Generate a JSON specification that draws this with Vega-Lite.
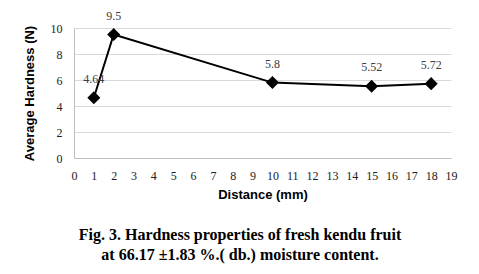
{
  "$schema": "https://vega.github.io/schema/vega-lite/v6.json",
  "autosize": {"type": "none"},
  "padding": {"left": 74, "top": 28, "right": 28, "bottom": 116},
  "width": 377,
  "height": 130,
  "background": "white",
  "config": {"view": {"stroke": null}},
  "title": {
    "text": "Fig. 3. Hardness properties of fresh kendu fruit",
    "subtitle": "at 66.17 ±1.83 %.( db.)  moisture  content.",
    "orient": "bottom",
    "anchor": "middle",
    "frame": "bounds",
    "font": "Liberation Serif",
    "fontSize": 16,
    "fontWeight": "bold",
    "color": "black",
    "subtitleFont": "Liberation Serif",
    "subtitleFontSize": 16,
    "subtitleFontWeight": "bold",
    "subtitleColor": "black",
    "subtitlePadding": 4,
    "offset": 26
  },
  "data": {"values": [
    {"distance": 1, "hardness": 4.64},
    {"distance": 2, "hardness": 9.5},
    {"distance": 10, "hardness": 5.8},
    {"distance": 15, "hardness": 5.52},
    {"distance": 18, "hardness": 5.72}
  ]},
  "encoding": {
    "x": {"field": "distance", "type": "quantitative",
      "scale": {"domain": [0, 19], "nice": false},
      "axis": {"title": "Distance (mm)", "values": [0,1,2,3,4,5,6,7,8,9,10,11,12,13,14,15,16,17,18,19],
        "grid": false, "ticks": false, "domainColor": "#bfbfbf", "labelFont": "Liberation Serif",
        "labelFontSize": 12, "labelColor": "#222222", "labelPadding": 12,
        "titleFont": "Liberation Sans", "titleFontSize": 13, "titleFontWeight": "bold", "titleColor": "black",
        "titlePadding": 7, "labelFlush": false}},
    "y": {"field": "hardness", "type": "quantitative",
      "scale": {"domain": [0, 10], "nice": false},
      "axis": {"title": "Average Hardness  (N)", "values": [0,2,4,6,8,10], "grid": true, "gridColor": "#d9d9d9",
        "ticks": false, "domainColor": "#bfbfbf", "labelFont": "Liberation Serif", "labelFontSize": 12,
        "labelColor": "#222222", "labelPadding": 12,
        "titleFont": "Liberation Sans", "titleFontSize": 13, "titleFontWeight": "bold", "titleColor": "black",
        "titlePadding": 14}}
  },
  "layer": [
    {"mark": {"type": "line", "color": "black", "strokeWidth": 2}},
    {"mark": {"type": "point", "shape": "diamond", "filled": true, "color": "black", "size": 170, "opacity": 1}},
    {"mark": {"type": "text", "dy": -19, "font": "Liberation Serif", "fontSize": 12, "color": "#404040"},
      "encoding": {"text": {"field": "hardness", "type": "quantitative"}}}
  ]
}
